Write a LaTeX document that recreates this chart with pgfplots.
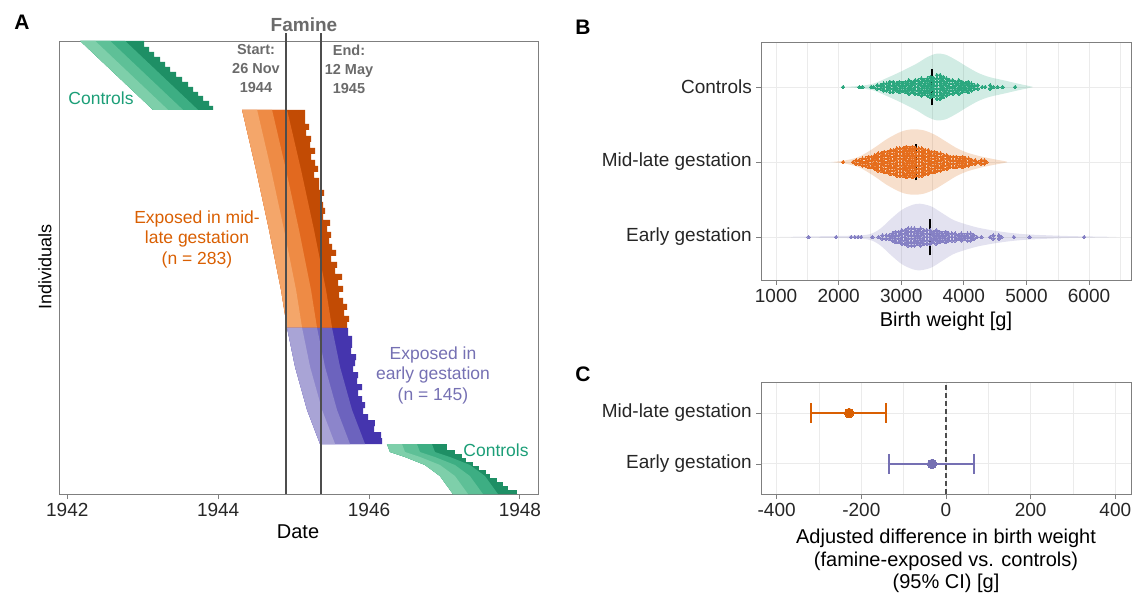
\documentclass[border=0pt]{standalone}
\usepackage{fontspec}
\setmainfont{Liberation Sans}
\usepackage{pgfplots}
\pgfplotsset{compat=1.18}
\definecolor{grA}{HTML}{7ECFAA}
\definecolor{grB}{HTML}{5EC097}
\definecolor{grC}{HTML}{3DAE83}
\definecolor{grD}{HTML}{1E8F65}
\definecolor{orA}{HTML}{F4A66A}
\definecolor{orB}{HTML}{EE8B45}
\definecolor{orC}{HTML}{E2691F}
\definecolor{orD}{HTML}{C24B04}
\definecolor{puA}{HTML}{A9A4D6}
\definecolor{puB}{HTML}{8C85CB}
\definecolor{puC}{HTML}{6C63BE}
\definecolor{puD}{HTML}{4535AE}
\definecolor{cgreen}{HTML}{1B9E77}
\definecolor{corange}{HTML}{D95F02}
\definecolor{cpurple}{HTML}{7570B3}
\definecolor{pgreen}{HTML}{2AA77E}
\definecolor{porange}{HTML}{E56D1C}
\definecolor{ppurple}{HTML}{8580C4}
\definecolor{axgray}{HTML}{7F7F7F}
\definecolor{gridc}{HTML}{EBEBEB}
\definecolor{famgray}{HTML}{6B6B6B}
\definecolor{vline}{HTML}{4D4D4D}
\pgfplotsset{
 panel/.style={
  scale only axis, anchor=south west,
  axis line style={draw=axgray, line width=0.9pt},
  tick style={draw=axgray, line width=0.9pt},
  major tick length=5pt, minor tick length=0pt,
  tick align=outside, tick pos=left,
  scaled ticks=false,
  /pgf/number format/assume math mode=true,
  tick label style={font=\fontsize{19}{22}\selectfont, text=black!85},
  xticklabel style={anchor=north, inner sep=0pt, yshift=-4pt},
  yticklabel style={anchor=east, inner sep=0pt, xshift=-4pt},
 },
 gridded/.style={xmajorgrids, xminorgrids, ymajorgrids,
  major grid style={draw=gridc, line width=1pt},
  minor grid style={draw=gridc, line width=0.5pt}},
 band/.style={draw=none, fill=#1},
 pts/.style={only marks, color=#1, mark=*, mark size=1.75pt, mark options={draw=#1, fill=#1, line width=0pt}},
}
\begin{document}
\begin{tikzpicture}
\path[use as bounding box] (0pt,0pt) rectangle (1132pt,592pt);
% ---------------- Panel A ----------------
\begin{axis}[panel, at={(59pt,98pt)}, width=479pt, height=453pt,
  xmin=1941.89, xmax=1948.24, ymin=0, ymax=453,
  xtick={1942,1944,1946,1948}, xticklabels={1942,1944,1946,1948},
  ytick=\empty, clip=false]
% top controls
\addplot[band=grD] coordinates {(1942.172,453)(1943.139,384)(1943.934,384)(1943.934,388)(1943.881,388)(1943.881,393)(1943.801,393)(1943.801,398)(1943.735,398)(1943.735,402)(1943.669,402)(1943.669,407)(1943.603,407)(1943.603,412)(1943.523,412)(1943.523,417)(1943.444,417)(1943.444,422)(1943.364,422)(1943.364,427)(1943.298,427)(1943.298,432)(1943.232,432)(1943.232,437)(1943.152,437)(1943.152,442)(1943.086,442)(1943.086,447)(1943.020,447)(1943.020,453)} -- cycle;
\addplot[band=grC] coordinates {(1942.172,453)(1943.139,384)(1943.735,384)(1942.768,453)} -- cycle;
\addplot[band=grB] coordinates {(1942.172,453)(1943.139,384)(1943.536,384)(1942.570,453)} -- cycle;
\addplot[band=grA] coordinates {(1942.172,453)(1943.139,384)(1943.338,384)(1942.371,453)} -- cycle;
% mid-late
\addplot[band=orD] coordinates {(1944.318,384)(1944.503,324)(1944.675,264)(1944.834,204)(1944.914,166)(1945.709,166)(1945.709,172)(1945.735,172)(1945.735,178)(1945.669,178)(1945.669,184)(1945.709,184)(1945.709,190)(1945.656,190)(1945.656,196)(1945.603,196)(1945.603,202)(1945.656,202)(1945.656,208)(1945.589,208)(1945.589,214)(1945.642,214)(1945.642,220)(1945.550,220)(1945.550,226)(1945.576,226)(1945.576,232)(1945.497,232)(1945.497,238)(1945.563,238)(1945.563,244)(1945.510,244)(1945.510,250)(1945.470,250)(1945.470,256)(1945.497,256)(1945.497,262)(1945.444,262)(1945.444,268)(1945.483,268)(1945.483,274)(1945.391,274)(1945.391,280)(1945.417,280)(1945.417,286)(1945.391,286)(1945.391,292)(1945.351,292)(1945.351,298)(1945.404,298)(1945.404,304)(1945.338,304)(1945.338,316)(1945.272,316)(1945.272,322)(1945.325,322)(1945.325,328)(1945.285,328)(1945.285,334)(1945.232,334)(1945.232,340)(1945.285,340)(1945.285,346)(1945.219,346)(1945.219,352)(1945.232,352)(1945.232,358)(1945.166,358)(1945.166,364)(1945.205,364)(1945.205,370)(1945.152,370)(1945.152,384)} -- cycle;
\addplot[band=orC] coordinates {(1944.318,384)(1944.503,324)(1944.675,264)(1944.834,204)(1944.914,166)(1945.510,166)(1945.430,204)(1945.271,264)(1945.099,324)(1944.914,384)} -- cycle;
\addplot[band=orB] coordinates {(1944.318,384)(1944.503,324)(1944.675,264)(1944.834,204)(1944.914,166)(1945.311,166)(1945.231,204)(1945.072,264)(1944.900,324)(1944.715,384)} -- cycle;
\addplot[band=orA] coordinates {(1944.318,384)(1944.503,324)(1944.675,264)(1944.834,204)(1944.914,166)(1945.113,166)(1945.033,204)(1944.874,264)(1944.702,324)(1944.517,384)} -- cycle;
% early
\addplot[band=puD] coordinates {(1944.914,166)(1945.020,127)(1945.179,84)(1945.351,50)(1946.172,50)(1946.172,56)(1946.159,56)(1946.159,62)(1946.066,62)(1946.066,68)(1946.079,68)(1946.079,74)(1945.987,74)(1945.987,80)(1945.921,80)(1945.921,86)(1945.947,86)(1945.947,92)(1945.907,92)(1945.907,98)(1945.854,98)(1945.854,104)(1945.907,104)(1945.907,110)(1945.841,110)(1945.841,116)(1945.854,116)(1945.854,122)(1945.788,122)(1945.788,128)(1945.815,128)(1945.815,134)(1945.828,134)(1945.828,140)(1945.762,140)(1945.762,146)(1945.775,146)(1945.775,158)(1945.722,158)(1945.722,166)} -- cycle;
\addplot[band=puC] coordinates {(1944.914,166)(1945.020,127)(1945.179,84)(1945.351,50)(1945.947,50)(1945.775,84)(1945.616,127)(1945.510,166)} -- cycle;
\addplot[band=puB] coordinates {(1944.914,166)(1945.020,127)(1945.179,84)(1945.351,50)(1945.748,50)(1945.576,84)(1945.417,127)(1945.311,166)} -- cycle;
\addplot[band=puA] coordinates {(1944.914,166)(1945.020,127)(1945.179,84)(1945.351,50)(1945.550,50)(1945.378,84)(1945.219,127)(1945.113,166)} -- cycle;
% bottom controls
\addplot[band=grD] coordinates {(1946.238,50)(1946.278,42)(1946.477,37)(1946.742,29)(1946.940,18)(1947.113,0)(1947.960,0)(1947.960,4)(1947.841,4)(1947.841,8)(1947.775,8)(1947.775,12)(1947.695,12)(1947.695,16)(1947.603,16)(1947.603,20)(1947.550,20)(1947.550,24)(1947.457,24)(1947.457,28)(1947.377,28)(1947.377,32)(1947.285,32)(1947.285,36)(1947.232,36)(1947.232,40)(1947.139,40)(1947.139,44)(1947.033,44)(1947.033,50)} -- cycle;
\addplot[band=grC] coordinates {(1946.238,50)(1946.278,42)(1946.477,37)(1946.742,29)(1946.940,18)(1947.113,0)(1947.709,0)(1947.536,18)(1947.338,29)(1947.073,37)(1946.874,42)(1946.834,50)} -- cycle;
\addplot[band=grB] coordinates {(1946.238,50)(1946.278,42)(1946.477,37)(1946.742,29)(1946.940,18)(1947.113,0)(1947.510,0)(1947.337,18)(1947.139,29)(1946.874,37)(1946.675,42)(1946.635,50)} -- cycle;
\addplot[band=grA] coordinates {(1946.238,50)(1946.278,42)(1946.477,37)(1946.742,29)(1946.940,18)(1947.113,0)(1947.312,0)(1947.139,18)(1946.941,29)(1946.676,37)(1946.477,42)(1946.437,50)} -- cycle;
% famine start / end
\addplot[vline, line width=1.8pt] coordinates {(1944.904,0)(1944.904,461)};
\addplot[vline, line width=1.8pt] coordinates {(1945.36,0)(1945.36,461)};
\end{axis}
% ---------------- Panel B ----------------
\begin{axis}[panel, gridded, at={(761pt,312pt)}, width=370pt, height=238pt,
  xmin=760, xmax=6670, ymin=0.427, ymax=3.6,
  xtick={1000,2000,3000,4000,5000,6000}, xticklabels={1000,2000,3000,4000,5000,6000},
  minor xtick={1500,2500,3500,4500,5500,6500},
  ytick={1,2,3}, yticklabels={Early gestation,Mid-late gestation,Controls}]
\addplot[draw=none, fill=cgreen, fill opacity=0.2, smooth, tension=0.5] coordinates {(2027,3)(2317,3.013)(2549,3.044)(2781,3.124)(3013,3.213)(3245,3.311)(3419,3.4)(3564,3.444)(3709,3.431)(3883,3.356)(4057,3.267)(4231,3.187)(4405,3.133)(4637,3.089)(4869,3.044)(5043,3.013)(5101,3)(5043,2.987)(4869,2.956)(4637,2.911)(4405,2.867)(4231,2.813)(4057,2.733)(3883,2.644)(3709,2.569)(3564,2.556)(3419,2.6)(3245,2.689)(3013,2.787)(2781,2.876)(2549,2.956)(2317,2.987)} -- cycle;
\addplot[draw=none, fill=corange, fill opacity=0.2, smooth, tension=0.5] coordinates {(1882,2)(2085,2.018)(2317,2.067)(2549,2.178)(2781,2.311)(3013,2.409)(3187,2.436)(3361,2.422)(3535,2.364)(3709,2.276)(3883,2.187)(4057,2.124)(4289,2.071)(4521,2.031)(4695,2)(4521,1.969)(4289,1.929)(4057,1.876)(3883,1.813)(3709,1.724)(3535,1.636)(3361,1.578)(3187,1.564)(3013,1.591)(2781,1.689)(2549,1.822)(2317,1.933)(2085,1.982)} -- cycle;
\addplot[draw=none, fill=cpurple, fill opacity=0.2, smooth, tension=0.5] coordinates {(1041,1)(1621,1.009)(2201,1.018)(2491,1.036)(2665,1.111)(2839,1.244)(3013,1.364)(3187,1.431)(3303,1.444)(3477,1.409)(3651,1.32)(3825,1.231)(3999,1.178)(4231,1.124)(4521,1.08)(4811,1.049)(5101,1.031)(5681,1.013)(6261,1.004)(6435,1)(6261,0.996)(5681,0.987)(5101,0.969)(4811,0.951)(4521,0.92)(4231,0.876)(3999,0.822)(3825,0.769)(3651,0.68)(3477,0.591)(3303,0.556)(3187,0.569)(3013,0.636)(2839,0.756)(2665,0.889)(2491,0.964)(2201,0.982)(1621,0.991)} -- cycle;
% controls points
\addplot[pts=pgreen] coordinates {(2070,3)(2330,3)(2380,3)(2520,3)(2560,3)
(2620,2.977)(2620,3.023)(2670,2.977)(2670,3.023)
(2720,2.955)(2720,3)(2720,3.045)(2770,2.955)(2770,3)(2770,3.045)
(2820,2.932)(2820,2.977)(2820,3.023)(2820,3.068)(2870,2.932)(2870,2.977)(2870,3.023)(2870,3.068)
(2920,2.955)(2920,3)(2920,3.045)(2970,2.932)(2970,2.977)(2970,3.023)(2970,3.068)
(3020,2.955)(3020,3)(3020,3.045)(3070,2.932)(3070,2.977)(3070,3.023)(3070,3.068)
(3120,2.91)(3120,2.955)(3120,3)(3120,3.045)(3120,3.09)(3170,2.932)(3170,2.977)(3170,3.023)(3170,3.068)
(3220,2.91)(3220,2.955)(3220,3)(3220,3.045)(3220,3.09)(3270,2.91)(3270,2.955)(3270,3)(3270,3.045)(3270,3.09)
(3320,2.887)(3320,2.932)(3320,2.977)(3320,3.023)(3320,3.068)(3320,3.113)
(3370,2.91)(3370,2.955)(3370,3)(3370,3.045)(3370,3.09)
(3420,2.887)(3420,2.932)(3420,2.977)(3420,3.023)(3420,3.068)(3420,3.113)
(3470,2.865)(3470,2.91)(3470,2.955)(3470,3)(3470,3.045)(3470,3.09)(3470,3.135)
(3520,2.887)(3520,2.932)(3520,2.977)(3520,3.023)(3520,3.068)(3520,3.113)
(3570,2.842)(3570,2.887)(3570,2.932)(3570,2.977)(3570,3.023)(3570,3.068)(3570,3.113)(3570,3.158)
(3620,2.842)(3620,2.887)(3620,2.932)(3620,2.977)(3620,3.023)(3620,3.068)(3620,3.113)(3620,3.158)
(3670,2.865)(3670,2.91)(3670,2.955)(3670,3)(3670,3.045)(3670,3.09)(3670,3.135)
(3720,2.887)(3720,2.932)(3720,2.977)(3720,3.023)(3720,3.068)(3720,3.113)
(3770,2.91)(3770,2.955)(3770,3)(3770,3.045)(3770,3.09)(3820,2.91)(3820,2.955)(3820,3)(3820,3.045)(3820,3.09)
(3870,2.932)(3870,2.977)(3870,3.023)(3870,3.068)(3920,2.91)(3920,2.955)(3920,3)(3920,3.045)(3920,3.09)
(3970,2.932)(3970,2.977)(3970,3.023)(3970,3.068)(4020,2.955)(4020,3)(4020,3.045)
(4070,2.932)(4070,2.977)(4070,3.023)(4070,3.068)(4120,2.955)(4120,3)(4120,3.045)
(4170,2.977)(4170,3.023)(4220,2.977)(4220,3.023)(4290,3)(4340,3)(4420,2.977)(4420,3.023)
(4470,3)(4540,3)(4620,3)(4820,3)};
% mid-late points
\addplot[pts=porange] coordinates {(2070,2)(2230,2)(2280,1.977)(2280,2.023)(2330,1.977)(2330,2.023)
(2380,1.955)(2380,2)(2380,2.045)(2430,1.955)(2430,2)(2430,2.045)
(2480,1.932)(2480,1.977)(2480,2.023)(2480,2.068)(2530,1.932)(2530,1.977)(2530,2.023)(2530,2.068)
(2580,1.91)(2580,1.955)(2580,2)(2580,2.045)(2580,2.09)
(2630,1.887)(2630,1.932)(2630,1.977)(2630,2.023)(2630,2.068)(2630,2.113)
(2680,1.887)(2680,1.932)(2680,1.977)(2680,2.023)(2680,2.068)(2680,2.113)
(2730,1.865)(2730,1.91)(2730,1.955)(2730,2)(2730,2.045)(2730,2.09)(2730,2.135)
(2780,1.865)(2780,1.91)(2780,1.955)(2780,2)(2780,2.045)(2780,2.09)(2780,2.135)
(2830,1.842)(2830,1.887)(2830,1.932)(2830,1.977)(2830,2.023)(2830,2.068)(2830,2.113)(2830,2.158)
(2880,1.842)(2880,1.887)(2880,1.932)(2880,1.977)(2880,2.023)(2880,2.068)(2880,2.113)(2880,2.158)
(2930,1.82)(2930,1.865)(2930,1.91)(2930,1.955)(2930,2)(2930,2.045)(2930,2.09)(2930,2.135)(2930,2.18)
(2980,1.82)(2980,1.865)(2980,1.91)(2980,1.955)(2980,2)(2980,2.045)(2980,2.09)(2980,2.135)(2980,2.18)
(3030,1.82)(3030,1.865)(3030,1.91)(3030,1.955)(3030,2)(3030,2.045)(3030,2.09)(3030,2.135)(3030,2.18)
(3080,1.797)(3080,1.842)(3080,1.887)(3080,1.932)(3080,1.977)(3080,2.023)(3080,2.068)(3080,2.113)(3080,2.158)(3080,2.203)
(3130,1.82)(3130,1.865)(3130,1.91)(3130,1.955)(3130,2)(3130,2.045)(3130,2.09)(3130,2.135)(3130,2.18)
(3180,1.797)(3180,1.842)(3180,1.887)(3180,1.932)(3180,1.977)(3180,2.023)(3180,2.068)(3180,2.113)(3180,2.158)(3180,2.203)
(3230,1.82)(3230,1.865)(3230,1.91)(3230,1.955)(3230,2)(3230,2.045)(3230,2.09)(3230,2.135)(3230,2.18)
(3280,1.82)(3280,1.865)(3280,1.91)(3280,1.955)(3280,2)(3280,2.045)(3280,2.09)(3280,2.135)(3280,2.18)
(3330,1.82)(3330,1.865)(3330,1.91)(3330,1.955)(3330,2)(3330,2.045)(3330,2.09)(3330,2.135)(3330,2.18)
(3380,1.842)(3380,1.887)(3380,1.932)(3380,1.977)(3380,2.023)(3380,2.068)(3380,2.113)(3380,2.158)
(3430,1.842)(3430,1.887)(3430,1.932)(3430,1.977)(3430,2.023)(3430,2.068)(3430,2.113)(3430,2.158)
(3480,1.865)(3480,1.91)(3480,1.955)(3480,2)(3480,2.045)(3480,2.09)(3480,2.135)
(3530,1.865)(3530,1.91)(3530,1.955)(3530,2)(3530,2.045)(3530,2.09)(3530,2.135)
(3580,1.887)(3580,1.932)(3580,1.977)(3580,2.023)(3580,2.068)(3580,2.113)
(3630,1.887)(3630,1.932)(3630,1.977)(3630,2.023)(3630,2.068)(3630,2.113)
(3680,1.91)(3680,1.955)(3680,2)(3680,2.045)(3680,2.09)(3730,1.91)(3730,1.955)(3730,2)(3730,2.045)(3730,2.09)
(3780,1.932)(3780,1.977)(3780,2.023)(3780,2.068)(3830,1.932)(3830,1.977)(3830,2.023)(3830,2.068)
(3880,1.932)(3880,1.977)(3880,2.023)(3880,2.068)(3930,1.955)(3930,2)(3930,2.045)
(3980,1.932)(3980,1.977)(3980,2.023)(3980,2.068)(4030,1.955)(4030,2)(4030,2.045)
(4080,1.955)(4080,2)(4080,2.045)(4130,1.977)(4130,2.023)(4180,1.977)(4180,2.023)
(4230,2)(4280,1.977)(4280,2.023)(4330,1.977)(4330,2.023)(4360,2)};
% early points
\addplot[pts=ppurple] coordinates {(1520,1)(1960,1)(2200,1)(2260,1)(2310,1)(2360,1)(2540,1)(2640,1)
(2700,0.977)(2700,1.023)(2760,0.977)(2760,1.023)(2810,0.977)(2810,1.023)(2860,0.955)(2860,1)(2860,1.045)
(2910,0.932)(2910,0.977)(2910,1.023)(2910,1.068)(2960,0.932)(2960,0.977)(2960,1.023)(2960,1.068)
(3010,0.91)(3010,0.955)(3010,1)(3010,1.045)(3010,1.09)(3060,0.91)(3060,0.955)(3060,1)(3060,1.045)(3060,1.09)
(3110,0.887)(3110,0.932)(3110,0.977)(3110,1.023)(3110,1.068)(3110,1.113)
(3160,0.887)(3160,0.932)(3160,0.977)(3160,1.023)(3160,1.068)(3160,1.113)
(3210,0.887)(3210,0.932)(3210,0.977)(3210,1.023)(3210,1.068)(3210,1.113)
(3260,0.91)(3260,0.955)(3260,1)(3260,1.045)(3260,1.09)
(3310,0.887)(3310,0.932)(3310,0.977)(3310,1.023)(3310,1.068)(3310,1.113)
(3360,0.91)(3360,0.955)(3360,1)(3360,1.045)(3360,1.09)(3410,0.91)(3410,0.955)(3410,1)(3410,1.045)(3410,1.09)
(3460,0.91)(3460,0.955)(3460,1)(3460,1.045)(3460,1.09)(3510,0.932)(3510,0.977)(3510,1.023)(3510,1.068)
(3560,0.91)(3560,0.955)(3560,1)(3560,1.045)(3560,1.09)(3610,0.932)(3610,0.977)(3610,1.023)(3610,1.068)
(3660,0.955)(3660,1)(3660,1.045)(3710,0.932)(3710,0.977)(3710,1.023)(3710,1.068)
(3760,0.955)(3760,1)(3760,1.045)(3810,0.955)(3810,1)(3810,1.045)(3860,0.955)(3860,1)(3860,1.045)
(3910,0.977)(3910,1.023)(3960,0.955)(3960,1)(3960,1.045)(4010,0.977)(4010,1.023)
(4060,0.955)(4060,1)(4060,1.045)(4110,0.955)(4110,1)(4110,1.045)(4160,0.977)(4160,1.023)
(4210,1)(4280,1)(4420,1)(4470,0.977)(4470,1.023)(4560,0.977)(4560,1.023)
(4600,1)(4800,1)(5050,1)(5920,1)};
% medians
\addplot[black, line width=1.6pt] coordinates {(3492,2.755)(3492,3.245)};
\addplot[black, line width=1.6pt] coordinates {(3236,1.755)(3236,2.245)};
\addplot[black, line width=1.6pt] coordinates {(3460,0.755)(3460,1.245)};
\end{axis}
% ---------------- Panel C ----------------
\begin{axis}[panel, gridded, at={(761pt,98pt)}, width=370pt, height=112pt,
  xmin=-437, xmax=437, ymin=0.41, ymax=2.61,
  xtick={-400,-200,0,200,400}, xticklabels={-400,-200,0,200,400},
  minor xtick={-300,-100,100,300},
  ytick={1,2}, yticklabels={Early gestation,Mid-late gestation}]
\addplot[vline, line width=1.2pt, dash pattern=on 5pt off 3pt] coordinates {(0,0.41)(0,2.61)};
\addplot[corange, line width=1.8pt, mark=|, mark size=10pt, mark options={solid}] coordinates {(-318,2)(-142,2)};
\addplot[corange, only marks, mark=*, mark size=4.8pt, mark options={draw=corange, fill=corange, line width=0pt}] coordinates {(-229,2)};
\addplot[cpurple, line width=1.8pt, mark=|, mark size=10pt, mark options={solid}] coordinates {(-134,1)(66,1)};
\addplot[cpurple, only marks, mark=*, mark size=4.8pt, mark options={draw=cpurple, fill=cpurple, line width=0pt}] coordinates {(-33,1)};
\end{axis}
% ---------------- Text ----------------
\node[font=\bfseries\fontsize{21}{24}\selectfont] at (22pt,570pt) {A};
\node[font=\bfseries\fontsize{21}{24}\selectfont] at (583pt,565pt) {B};
\node[font=\bfseries\fontsize{21}{24}\selectfont] at (583pt,218pt) {C};
\node[font=\bfseries\fontsize{19}{22}\selectfont, text=famgray] at (304pt,567pt) {Famine};
\node[font=\bfseries\fontsize{14.5}{19}\selectfont, text=famgray, align=center] at (256pt,523pt) {Start:\\26 Nov\\1944};
\node[font=\bfseries\fontsize{14.5}{19}\selectfont, text=famgray, align=center] at (349pt,523pt) {End:\\12 May\\1945};
\node[font=\fontsize{17.5}{20.5}\selectfont, text=cgreen] at (101pt,494pt) {Controls};
\node[font=\fontsize{17.5}{20.5}\selectfont, text=corange, align=center] at (197pt,353pt) {Exposed in mid-\\late gestation\\(n = 283)};
\node[font=\fontsize{17.5}{20.5}\selectfont, text=cpurple, align=center] at (433pt,217pt) {Exposed in\\early gestation\\(n = 145)};
\node[font=\fontsize{17.5}{20.5}\selectfont, text=cgreen] at (496pt,142pt) {Controls};
\node[font=\fontsize{18}{21}\selectfont, rotate=90] at (45pt,325pt) {Individuals};
\node[font=\fontsize{20}{23}\selectfont] at (298pt,60pt) {Date};
\node[font=\fontsize{20}{23}\selectfont] at (946pt,271pt) {Birth weight [g]};
\node[font=\fontsize{20}{22.5}\selectfont, align=center] at (946pt,31pt) {Adjusted difference in birth weight\\(famine-exposed vs. controls)\\(95\% CI) [g]};
\end{tikzpicture}
\end{document}
